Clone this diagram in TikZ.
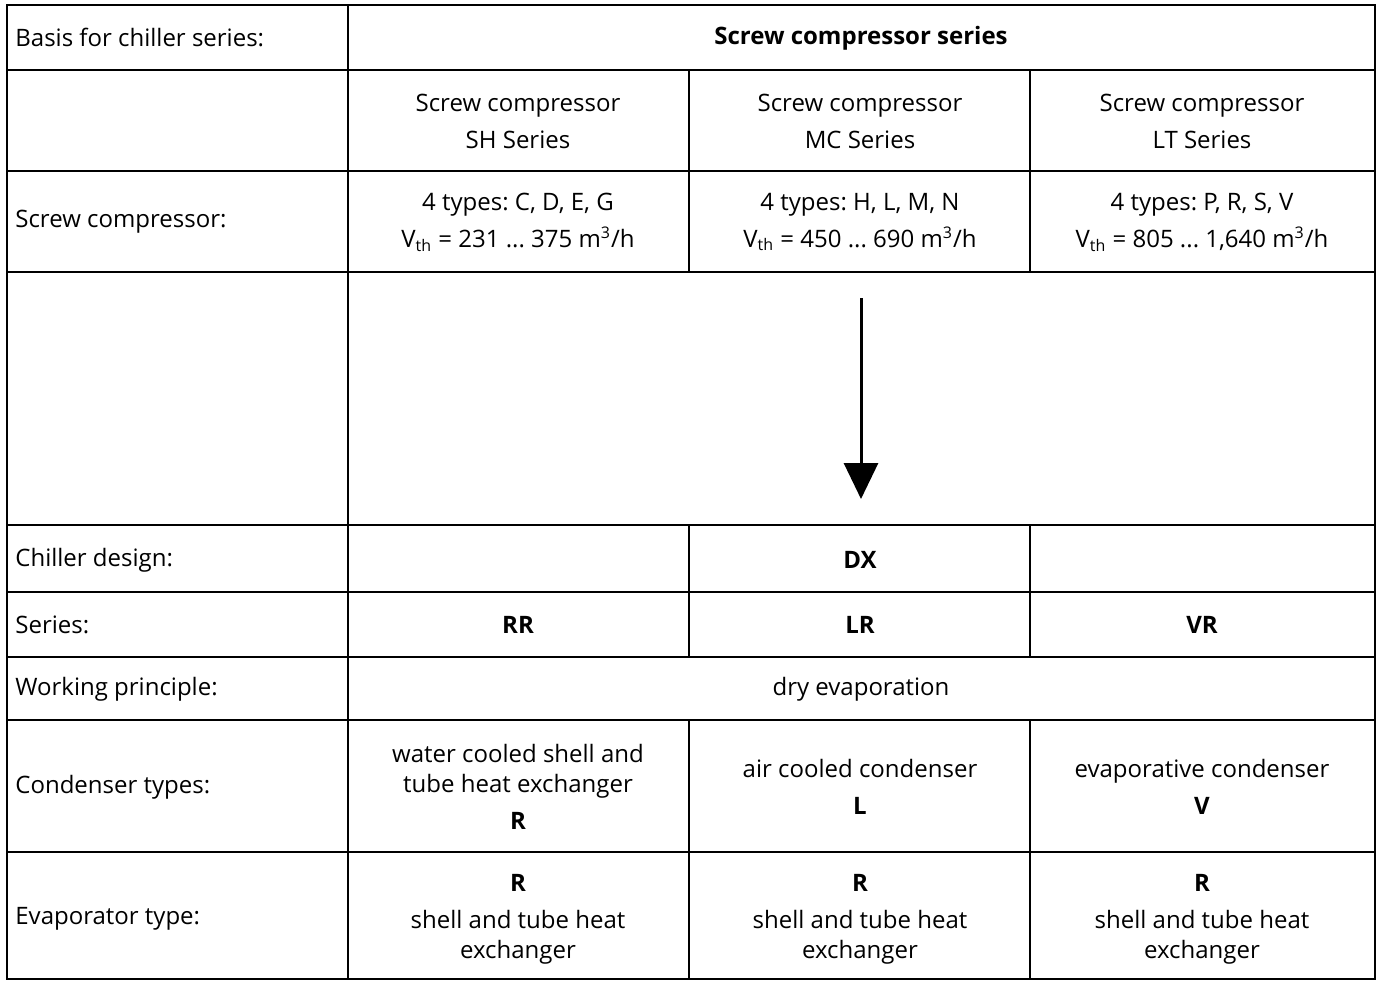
\documentclass[tikz,border=0pt]{standalone}
\usepackage{fontspec}
\setmainfont{Open Sans}
\frenchspacing
\usetikzlibrary{arrows.meta}
\begin{document}
\begin{tikzpicture}[x=0.5pt,y=-0.5pt,
    grid/.style={line width=0.9pt},
    rowlabel/.style={anchor=west,inner sep=0pt,font=\fontsize{12}{15}\selectfont},
    cell/.style={align=center,inner sep=0pt,font=\fontsize{12}{15}\selectfont},
    flowarrow/.style={line width=1.5pt,-{Triangle[length=18pt,width=17pt]}}]
  \useasboundingbox (0,0) rectangle (1376,980);

  % table grid
  \draw[grid] (7,5) rectangle (1375,979);
  \foreach \y in {70,171,272,525,592,657,720,852}
    \draw[grid] (7,\y) -- (1375,\y);
  \draw[grid] (348,5) -- (348,979);
  \foreach \x in {689,1030}
    \draw[grid] (\x,70) -- (\x,272) (\x,525) -- (\x,657) (\x,720) -- (\x,979);

  % left column
  \node[rowlabel] (basis)     at (15,37)  {Basis for chiller series:};
  \node[rowlabel] (compr)     at (15,222) {Screw compressor:};
  \node[rowlabel] (design)    at (15,560) {Chiller design:};
  \node[rowlabel] (series)    at (15,625) {Series:};
  \node[rowlabel] (principle) at (15,689) {Working principle:};
  \node[rowlabel] (condenser) at (15,787) {Condenser types:};
  \node[rowlabel] (evap)      at (15,919) {Evaporator type:};

  % header
  \node[cell] (head) at (861,38) {\bfseries Screw compressor series};
  \node[cell] (sh) at (518,121) {Screw compressor\\[3.5pt]SH Series};
  \node[cell] (mc) at (860,121) {Screw compressor\\[3.5pt]MC Series};
  \node[cell] (lt) at (1202,121) {Screw compressor\\[3.5pt]LT Series};

  % compressor types
  \node[cell] (shv) at (518,222) {4 types: C, D, E, G\\[3.5pt]V\textsubscript{th} = 231 ... 375 m\textsuperscript{3}/h};
  \node[cell] (mcv) at (860,222) {4 types: H, L, M, N\\[3.5pt]V\textsubscript{th} = 450 ... 690 m\textsuperscript{3}/h};
  \node[cell] (ltv) at (1202,222) {4 types: P, R, S, V\\[3.5pt]V\textsubscript{th} = 805 ... 1,640 m\textsuperscript{3}/h};

  % arrow
  \coordinate (arrtop) at (861,298);
  \coordinate (arrbot) at (861,499);
  \draw[flowarrow] (arrtop) -- (arrbot);

  % chiller design and series
  \node[cell] (dx) at (860,560) {\bfseries DX};
  \node[cell] (rr) at (518,625) {\bfseries RR};
  \node[cell] (lr) at (860,625) {\bfseries LR};
  \node[cell] (vr) at (1202,625) {\bfseries VR};
  \node[cell] (dry) at (861,689) {dry evaporation};

  % condenser
  \node[cell] (condR) at (518,787) {water cooled shell and\\tube heat exchanger\\[3.5pt]\bfseries R};
  \node[cell] (condL) at (860,787) {air cooled condenser\\[3.5pt]\bfseries L};
  \node[cell] (condV) at (1202,787) {evaporative condenser\\[3.5pt]\bfseries V};

  % evaporator
  \node[cell] (evapR) at (518,919) {\bfseries R\\[3.5pt]shell and tube heat\\exchanger};
  \node[cell] (evapL) at (860,919) {\bfseries R\\[3.5pt]shell and tube heat\\exchanger};
  \node[cell] (evapV) at (1202,919) {\bfseries R\\[3.5pt]shell and tube heat\\exchanger};
\end{tikzpicture}
\end{document}
